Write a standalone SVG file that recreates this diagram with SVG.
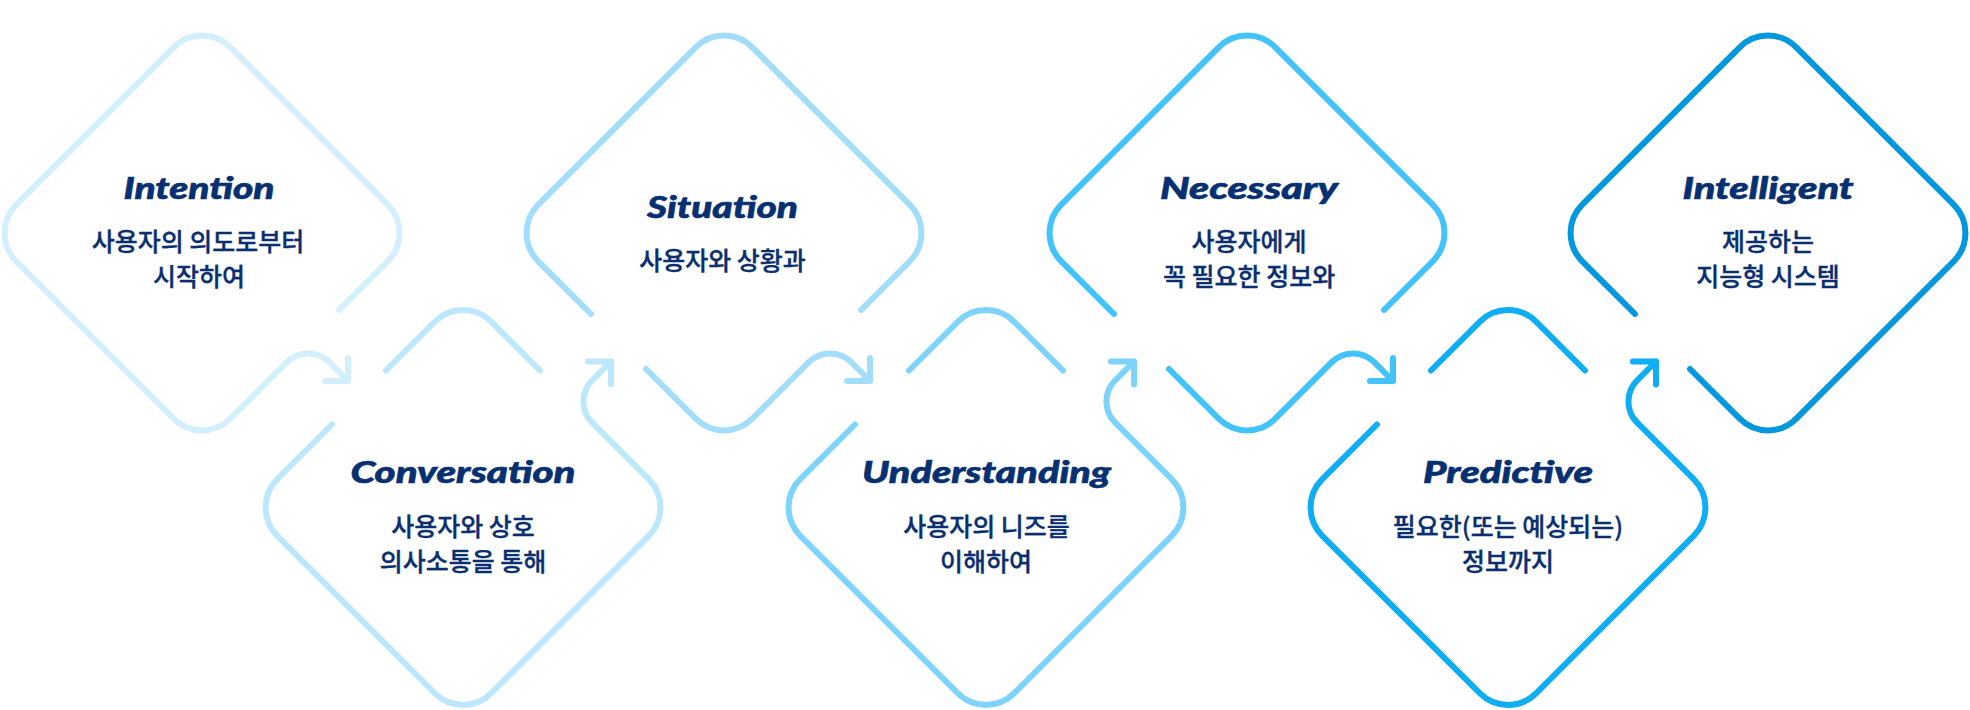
<svg xmlns="http://www.w3.org/2000/svg" width="1970" height="710" viewBox="0 0 1970 710">
  <style>
    .outline { fill: none; stroke-width: 6; stroke-linecap: round; stroke-linejoin: round; }
    .c1 { stroke: #d3effd; }
    .c2 { stroke: #bce7fd; }
    .c3 { stroke: #a2defc; }
    .c4 { stroke: #7ed3fc; }
    .c5 { stroke: #43c3fb; }
    .c6 { stroke: #0eadf4; }
    .c7 { stroke: #0398dd; }
    .title { font-family: "Lato", "Roboto", "Liberation Sans", sans-serif; font-weight: 900; font-style: italic; font-size: 30px; fill: #073073; stroke: #073073; stroke-width: 0.6; text-anchor: middle; }
    .desc { font-family: "Noto Sans CJK KR", "Noto Sans", sans-serif; font-weight: 500; font-size: 25px; fill: #0a2f70; stroke: #0a2f70; stroke-width: 0.35; text-anchor: middle; }
  </style>

  <!-- Top row: rounded diamonds centred at y=233 -->
  <g id="node-intention" transform="translate(202,233)">
    <path class="outline c1" d="M137,77 L185.72,28.28 A40,40 0 0 0 185.72,-28.28 L28.28,-185.72 A40,40 0 0 0 -28.28,-185.72 L-185.72,-28.28 A40,40 0 0 0 -185.72,28.28 L-28.28,185.72 A40,40 0 0 0 28.28,185.72 L84.8,129.2"/>
    <text class="title" x="-3" y="-34" textLength="151" lengthAdjust="spacingAndGlyphs">Intention</text>
    <text class="desc" x="-4" y="18">사용자의 의도로부터</text>
    <text class="desc" x="-3" y="52.5">시작하여</text>
  </g>

  <g id="node-situation" transform="translate(724,233)">
    <path class="outline c3" d="M137,77 L185.72,28.28 A40,40 0 0 0 185.72,-28.28 L28.28,-185.72 A40,40 0 0 0 -28.28,-185.72 L-185.72,-28.28 A40,40 0 0 0 -185.72,28.28 L-133,81"/>
    <path class="outline c3" d="M-78,136 L-28.28,185.72 A40,40 0 0 0 28.28,185.72 L84.8,129.2"/>
    <text class="title" x="-1.5" y="-15" textLength="151" lengthAdjust="spacingAndGlyphs">Situation</text>
    <text class="desc" x="-1.5" y="37">사용자와 상황과</text>
  </g>

  <g id="node-necessary" transform="translate(1247,233)">
    <path class="outline c5" d="M137,77 L185.72,28.28 A40,40 0 0 0 185.72,-28.28 L28.28,-185.72 A40,40 0 0 0 -28.28,-185.72 L-185.72,-28.28 A40,40 0 0 0 -185.72,28.28 L-133,81"/>
    <path class="outline c5" d="M-78,136 L-28.28,185.72 A40,40 0 0 0 28.28,185.72 L84.8,129.2"/>
    <text class="title" x="2" y="-34" textLength="178" lengthAdjust="spacingAndGlyphs">Necessary</text>
    <text class="desc" x="2" y="18">사용자에게</text>
    <text class="desc" x="2" y="52.5">꼭 필요한 정보와</text>
  </g>

  <g id="node-intelligent" transform="translate(1768,233)">
    <path class="outline c7" d="M-78,136 L-28.28,185.72 A40,40 0 0 0 28.28,185.72 L185.72,28.28 A40,40 0 0 0 185.72,-28.28 L28.28,-185.72 A40,40 0 0 0 -28.28,-185.72 L-185.72,-28.28 A40,40 0 0 0 -185.72,28.28 L-133,81"/>
    <text class="title" x="0" y="-34" textLength="171" lengthAdjust="spacingAndGlyphs">Intelligent</text>
    <text class="desc" x="0" y="18">제공하는</text>
    <text class="desc" x="0" y="52.5">지능형 시스템</text>
  </g>

  <!-- Bottom row: rounded diamonds centred at y=507.5 -->
  <g id="node-conversation" transform="translate(463,507.5)">
    <path class="outline c2" d="M-77,-137 L-28.28,-185.72 A40,40 0 0 1 28.28,-185.72 L77,-137"/>
    <path class="outline c2" d="M-131,-83 L-185.72,-28.28 A40,40 0 0 0 -185.72,28.28 L-28.28,185.72 A40,40 0 0 0 28.28,185.72 L185.72,28.28 A40,40 0 0 0 185.72,-28.28 L129.2,-84.8"/>
    <text class="title" x="0" y="-24.5" textLength="225" lengthAdjust="spacingAndGlyphs">Conversation</text>
    <text class="desc" x="0" y="28">사용자와 상호</text>
    <text class="desc" x="0" y="63">의사소통을 통해</text>
  </g>

  <g id="node-understanding" transform="translate(986,507.5)">
    <path class="outline c4" d="M-77,-137 L-28.28,-185.72 A40,40 0 0 1 28.28,-185.72 L77,-137"/>
    <path class="outline c4" d="M-131,-83 L-185.72,-28.28 A40,40 0 0 0 -185.72,28.28 L-28.28,185.72 A40,40 0 0 0 28.28,185.72 L185.72,28.28 A40,40 0 0 0 185.72,-28.28 L129.2,-84.8"/>
    <text class="title" x="0.5" y="-24.5" textLength="249" lengthAdjust="spacingAndGlyphs">Understanding</text>
    <text class="desc" x="0.5" y="28">사용자의 니즈를</text>
    <text class="desc" x="0" y="63">이해하여</text>
  </g>

  <g id="node-predictive" transform="translate(1508,507.5)">
    <path class="outline c6" d="M-77,-137 L-28.28,-185.72 A40,40 0 0 1 28.28,-185.72 L77,-137"/>
    <path class="outline c6" d="M-131,-83 L-185.72,-28.28 A40,40 0 0 0 -185.72,28.28 L-28.28,185.72 A40,40 0 0 0 28.28,185.72 L185.72,28.28 A40,40 0 0 0 185.72,-28.28 L129.2,-84.8"/>
    <text class="title" x="0" y="-24.5" textLength="170" lengthAdjust="spacingAndGlyphs">Predictive</text>
    <text class="desc" x="0" y="28">필요한(또는 예상되는)</text>
    <text class="desc" x="0" y="63">정보까지</text>
  </g>

  <!-- Connectors: each outline bends off and ends in an open arrowhead -->
  <g id="connectors">
    <path class="outline c1" transform="translate(202,233)" d="M84.8,129.2 A30,30 0 0 1 127.2,129.2 L146,148 M146,125 L146,148 L123,148"/>
    <path class="outline c2" transform="translate(463,507.5)" d="M129.2,-84.8 A30,30 0 0 1 129.2,-127.2 L148,-146 M125,-146 L148,-146 L148,-123"/>
    <path class="outline c3" transform="translate(724,233)" d="M84.8,129.2 A30,30 0 0 1 127.2,129.2 L146,148 M146,125 L146,148 L123,148"/>
    <path class="outline c4" transform="translate(986,507.5)" d="M129.2,-84.8 A30,30 0 0 1 129.2,-127.2 L148,-146 M125,-146 L148,-146 L148,-123"/>
    <path class="outline c5" transform="translate(1247,233)" d="M84.8,129.2 A30,30 0 0 1 127.2,129.2 L146,148 M146,125 L146,148 L123,148"/>
    <path class="outline c6" transform="translate(1508,507.5)" d="M129.2,-84.8 A30,30 0 0 1 129.2,-127.2 L148,-146 M125,-146 L148,-146 L148,-123"/>
  </g>
</svg>
